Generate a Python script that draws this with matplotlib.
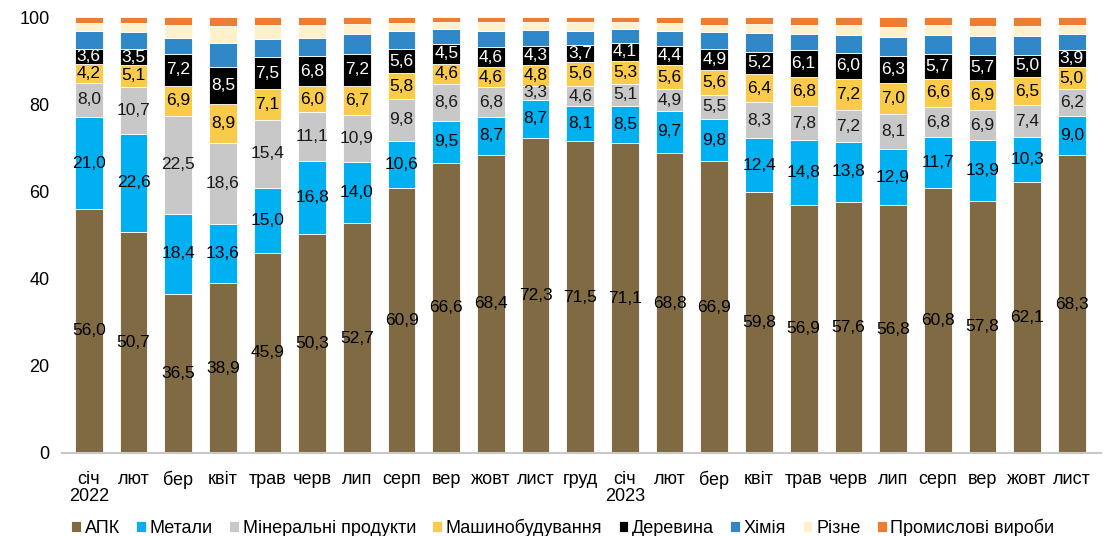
import matplotlib
matplotlib.use("Agg")
import matplotlib.pyplot as plt
import numpy as np

plt.rcParams['font.family'] = ['Liberation Sans', 'DejaVu Sans']

months = ["січ\n2022", "лют", "бер", "квіт", "трав", "черв", "лип", "серп", "вер", "жовт", "лист", "груд",
          "січ\n2023", "лют", "бер", "квіт", "трав", "черв", "лип", "серп", "вер", "жовт", "лист"]

apk = [56.0, 50.7, 36.5, 38.9, 45.9, 50.3, 52.7, 60.9, 66.6, 68.4, 72.3, 71.5,
       71.1, 68.8, 66.9, 59.8, 56.9, 57.6, 56.8, 60.8, 57.8, 62.1, 68.3]
metals = [21.0, 22.6, 18.4, 13.6, 15.0, 16.8, 14.0, 10.6, 9.5, 8.7, 8.7, 8.1,
          8.5, 9.7, 9.8, 12.4, 14.8, 13.8, 12.9, 11.7, 13.9, 10.3, 9.0]
minerals = [8.0, 10.7, 22.5, 18.6, 15.4, 11.1, 10.9, 9.8, 8.6, 6.8, 3.3, 4.6,
            5.1, 4.9, 5.5, 8.3, 7.8, 7.2, 8.1, 6.8, 6.9, 7.4, 6.2]
machinery = [4.2, 5.1, 6.9, 8.9, 7.1, 6.0, 6.7, 5.8, 4.6, 4.6, 4.8, 5.6,
             5.3, 5.6, 5.6, 6.4, 6.8, 7.2, 7.0, 6.6, 6.9, 6.5, 5.0]
wood = [3.6, 3.5, 7.2, 8.5, 7.5, 6.8, 7.2, 5.6, 4.5, 4.6, 4.3, 3.7,
        4.1, 4.4, 4.9, 5.2, 6.1, 6.0, 6.3, 5.7, 5.7, 5.0, 3.9]
chem = [4.0, 4.1, 3.8, 5.5, 4.1, 4.3, 4.7, 4.1, 3.5, 3.8, 3.7, 3.4,
        3.1, 3.5, 3.8, 4.2, 3.8, 4.2, 4.4, 4.2, 4.5, 4.4, 3.8]
misc = [1.9, 1.9, 2.9, 4.0, 3.2, 3.0, 2.3, 1.9, 1.6, 1.9, 1.7, 1.9,
        1.7, 1.7, 1.8, 2.1, 2.1, 2.1, 2.3, 2.3, 2.2, 2.3, 2.1]
industrial = [1.3, 1.4, 1.8, 2.0, 1.8, 1.7, 1.5, 1.3, 1.1, 1.2, 1.2, 1.2,
              1.1, 1.4, 1.7, 1.6, 1.7, 1.9, 2.2, 1.9, 2.1, 2.0, 1.7]

series = [
    ("АПК", apk, "#7F6A44", "black", True),
    ("Метали", metals, "#00B0F0", "black", True),
    ("Мінеральні продукти", minerals, "#C8C8C8", "#1a1a1a", True),
    ("Машинобудування", machinery, "#FACB48", "black", True),
    ("Деревина", wood, "#000000", "white", True),
    ("Хімія", chem, "#3088C8", "black", False),
    ("Різне", misc, "#FFF1CC", "black", False),
    ("Промислові вироби", industrial, "#EE7D31", "black", False),
]

fig = plt.figure(figsize=(11.17, 5.36), dpi=100)
ax = fig.add_axes([0.0555, 0.155, 0.93, 0.813])

x = np.arange(len(months))
bottom = np.zeros(len(months))
for name, vals, color, tcolor, lab in series:
    v = np.array(vals)
    ax.bar(x, v, 0.62, bottom=bottom, color=color, label=name,
           edgecolor="white", linewidth=0.6)
    if lab:
        for xi, b, val in zip(x, bottom, v):
            ax.text(xi, b + val / 2, f"{val:.1f}".replace(".", ","),
                    ha="center", va="center", fontsize=12.5, color=tcolor)
    bottom += v

ax.set_xlim(-0.6, len(months) - 1 + 0.65)
ax.set_ylim(0, 100)
ax.set_yticks([0, 20, 40, 60, 80, 100])
ax.set_xticks(x)
ax.set_xticklabels(months, fontsize=13, linespacing=1.0)
ax.tick_params(axis="y", labelsize=13, length=0, pad=9)
ax.tick_params(axis="x", length=0, pad=13)
for s in ["top", "right", "left"]:
    ax.spines[s].set_visible(False)
ax.spines["bottom"].set_color("#C8C8C8")
ax.spines["bottom"].set_linewidth(1.5)

handles, labels = ax.get_legend_handles_labels()
fig.legend(handles, labels, loc="lower left", bbox_to_anchor=(0.054, -0.022),
           ncol=8, frameon=False, fontsize=13, handlelength=0.55, handleheight=0.55,
           handletextpad=0.2, columnspacing=0.9, borderaxespad=0.2)

fig.savefig("out.png", dpi=100)
